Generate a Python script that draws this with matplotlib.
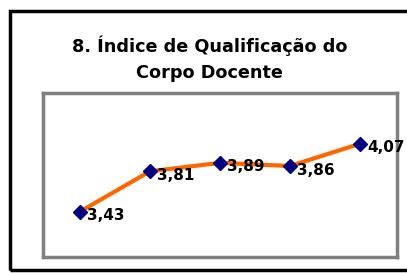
import matplotlib
matplotlib.use("Agg")
import matplotlib.pyplot as plt
from matplotlib.patches import Rectangle

# Dados do gráfico
anos = ["1", "2", "3", "4", "5"]
indice = [3.43, 3.81, 3.89, 3.86, 4.07]
rotulos = ["3,43", "3,81", "3,89", "3,86", "4,07"]

fig = plt.figure(figsize=(4.07, 2.73), dpi=100)
fig.patch.set_facecolor("white")

# moldura externa preta
fig.patches.append(Rectangle((10 / 407, 3 / 273), 1.2, 259 / 273, transform=fig.transFigure,
                             fill=False, edgecolor="black", linewidth=2.5, zorder=0))

fig.text(0.515, 1 - 59 / 273, "8. Índice de Qualificação do\nCorpo Docente", ha="center", va="center",
         fontsize=12.7, fontweight="heavy", linespacing=1.55)

ax = fig.add_axes([43 / 407, 1 - 257 / 273, 354 / 407, 164 / 273])
x = list(range(len(anos)))
ax.plot(x, indice, color="#FF6600", linewidth=3, zorder=2)
ax.plot(x, indice, linestyle="none", marker="D", markersize=7, color="#000080", zorder=3)
for xi, yi, r in zip(x, indice, rotulos):
    ax.annotate(r, (xi, yi), xytext=(5, -3), textcoords="offset points", ha="left", va="center",
                fontsize=11, fontweight="bold", zorder=4, annotation_clip=False)

ax.set_xlim(-0.53, 4.53)
ax.set_ylim(3.0, 4.55)
ax.set_xticks([])
ax.set_yticks([])
for s in ax.spines.values():
    s.set_color("#808080")
    s.set_linewidth(2.5)

fig.savefig("out.png", dpi=100)
